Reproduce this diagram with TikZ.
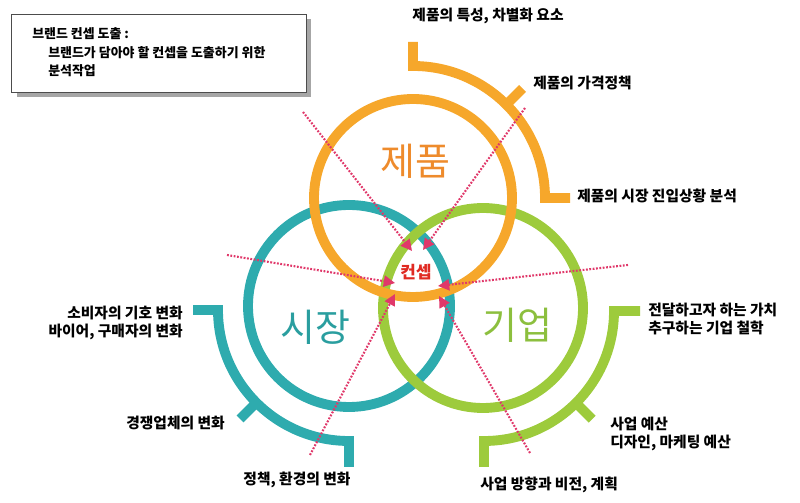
\documentclass[tikz,border=0pt]{standalone}
\usepackage{fontspec}
\setmainfont{Noto Sans CJK KR}
\usetikzlibrary{arrows.meta}

\definecolor{ringorange}{HTML}{F6A72B}
\definecolor{ringteal}{HTML}{2EABAE}
\definecolor{ringgreen}{HTML}{9DCB3C}
\definecolor{wordorange}{HTML}{EE8B2C}
\definecolor{wordteal}{HTML}{2A9E9F}
\definecolor{wordgreen}{HTML}{8CBF3E}
\definecolor{dotred}{HTML}{E0386A}
\definecolor{conceptred}{HTML}{E02A22}

\tikzstyle{ring}=[line width=7pt]
\tikzstyle{bracket}=[line width=7pt]
\tikzstyle{remark}=[font=\fontsize{10.5}{12.5}\selectfont\bfseries, inner sep=0pt]
\tikzstyle{boxtext}=[font=\fontsize{9.2}{12}\selectfont\bfseries, inner sep=0pt, anchor=west]
\tikzstyle{bigword}=[font=\fontsize{27}{30}\selectfont, inner sep=0pt]
\tikzstyle{probe}=[draw=dotred, line width=1.5pt, dash pattern=on 1.3pt off 1.1pt,
                   -{Triangle[length=8pt,width=8pt]}, dotred]
\tikzstyle{notebox}=[draw=black!70, fill=white, line width=0.7pt, minimum width=7.35cm, minimum height=1.93cm]
\tikzstyle{noteshadow}=[fill=black!35, minimum width=7.35cm, minimum height=1.93cm]

\begin{document}
\begin{tikzpicture}[x=0.025cm, y=0.025cm]
		\useasboundingbox (0,0) rectangle (800,503);

		% note box
		\node [noteshadow] (shadow) at (164,445) {};
		\node [notebox]    (box)    at (159,449.5) {};
		\node [boxtext] (note1) at (32,469) {브랜드 컨셉 도출 :};
		\node [boxtext] (note2) at (48,450) {브랜드가 담아야 할 컨셉을 도출하기 위한};
		\node [boxtext] (note3) at (48,432) {분석작업};

		% centres
		\coordinate (cP) at (413,305);
		\coordinate (cM) at (349,197);
		\coordinate (cC) at (483,195);
		\coordinate (bM) at (349,193);
		\coordinate (bC) at (484,192);

		% circles
		\draw [ring, ringteal]   (cM) circle [radius=101];
		\draw [ring, ringgreen]  (cC) circle [radius=100];
		\draw [ring, ringorange] (cP) circle [radius=99];

		% brackets
		\draw [bracket, ringorange, shift={(cP)}] (90:156) -- (90:132) arc [start angle=90, end angle=0, radius=132] -- (0:157);
		\draw [bracket, ringorange, shift={(cP)}] (45:132) -- (45:155);
		\draw [bracket, ringteal, shift={(bM)}] (180:156) -- (180:131) arc [start angle=180, end angle=270, radius=131] -- (270:157);
		\draw [bracket, ringteal, shift={(bM)}] (225:131) -- (225:154);
		\draw [bracket, ringgreen, shift={(bC)}] (0:156) -- (0:130) arc [start angle=0, end angle=-90, radius=130] -- (-90:156);
		\draw [bracket, ringgreen, shift={(bC)}] (-45:130) -- (-45:153);

		% big words
		\node [bigword, wordorange] (product) at (415,342) {제품};
		\node [bigword, wordteal]   (market)  at (315,176) {시장};
		\node [bigword, wordgreen]  (company) at (517,178) {기업};
		\node [font=\fontsize{12}{14}\selectfont\bfseries, conceptred, inner sep=0pt] (concept) at (416,231) {컨셉};

		% remarks
		\node [remark]                         (p1) at (488,487) {제품의 특성, 차별화 요소};
		\node [remark, anchor=west]            (p2) at (533,420) {제품의 가격정책};
		\node [remark, anchor=west]            (p3) at (577,307) {제품의 시장 진입상황 분석};
		\node [remark, anchor=east, align=right] (m1) at (183,180) {소비자의 기호 변화\\바이어, 구매자의 변화};
		\node [remark, anchor=east]            (m2) at (225,80)  {경쟁업체의 변화};
		\node [remark]                         (m3) at (297,23)  {정책, 환경의 변화};
		\node [remark, anchor=west, align=left] (c1) at (648,184) {전달하고자 하는 가치\\추구하는 기업 철학};
		\node [remark, anchor=west, align=left] (c2) at (610,69)  {사업 예산\\디자인, 마케팅 예산};
		\node [remark, anchor=west]            (c3) at (480,18)  {사업 방향과 비전, 계획};

		% dotted probes
		\coordinate (s1) at (303,391);  \coordinate (t1) at (412,252);
		\coordinate (s2) at (525,395);  \coordinate (t2) at (423,253);
		\coordinate (s3) at (227,248);  \coordinate (t3) at (395,220);
		\coordinate (s4) at (628,238);  \coordinate (t4) at (438,217);
		\coordinate (s5) at (310,48);   \coordinate (t5) at (395,209);
		\coordinate (s6) at (530,50);   \coordinate (t6) at (439,207);

		\draw [probe] (s1) -- (t1);
		\draw [probe] (s2) -- (t2);
		\draw [probe] (s3) -- (t3);
		\draw [probe] (s4) -- (t4);
		\draw [probe] (s5) -- (t5);
		\draw [probe] (s6) -- (t6);
	\end{tikzpicture}
\end{document}
